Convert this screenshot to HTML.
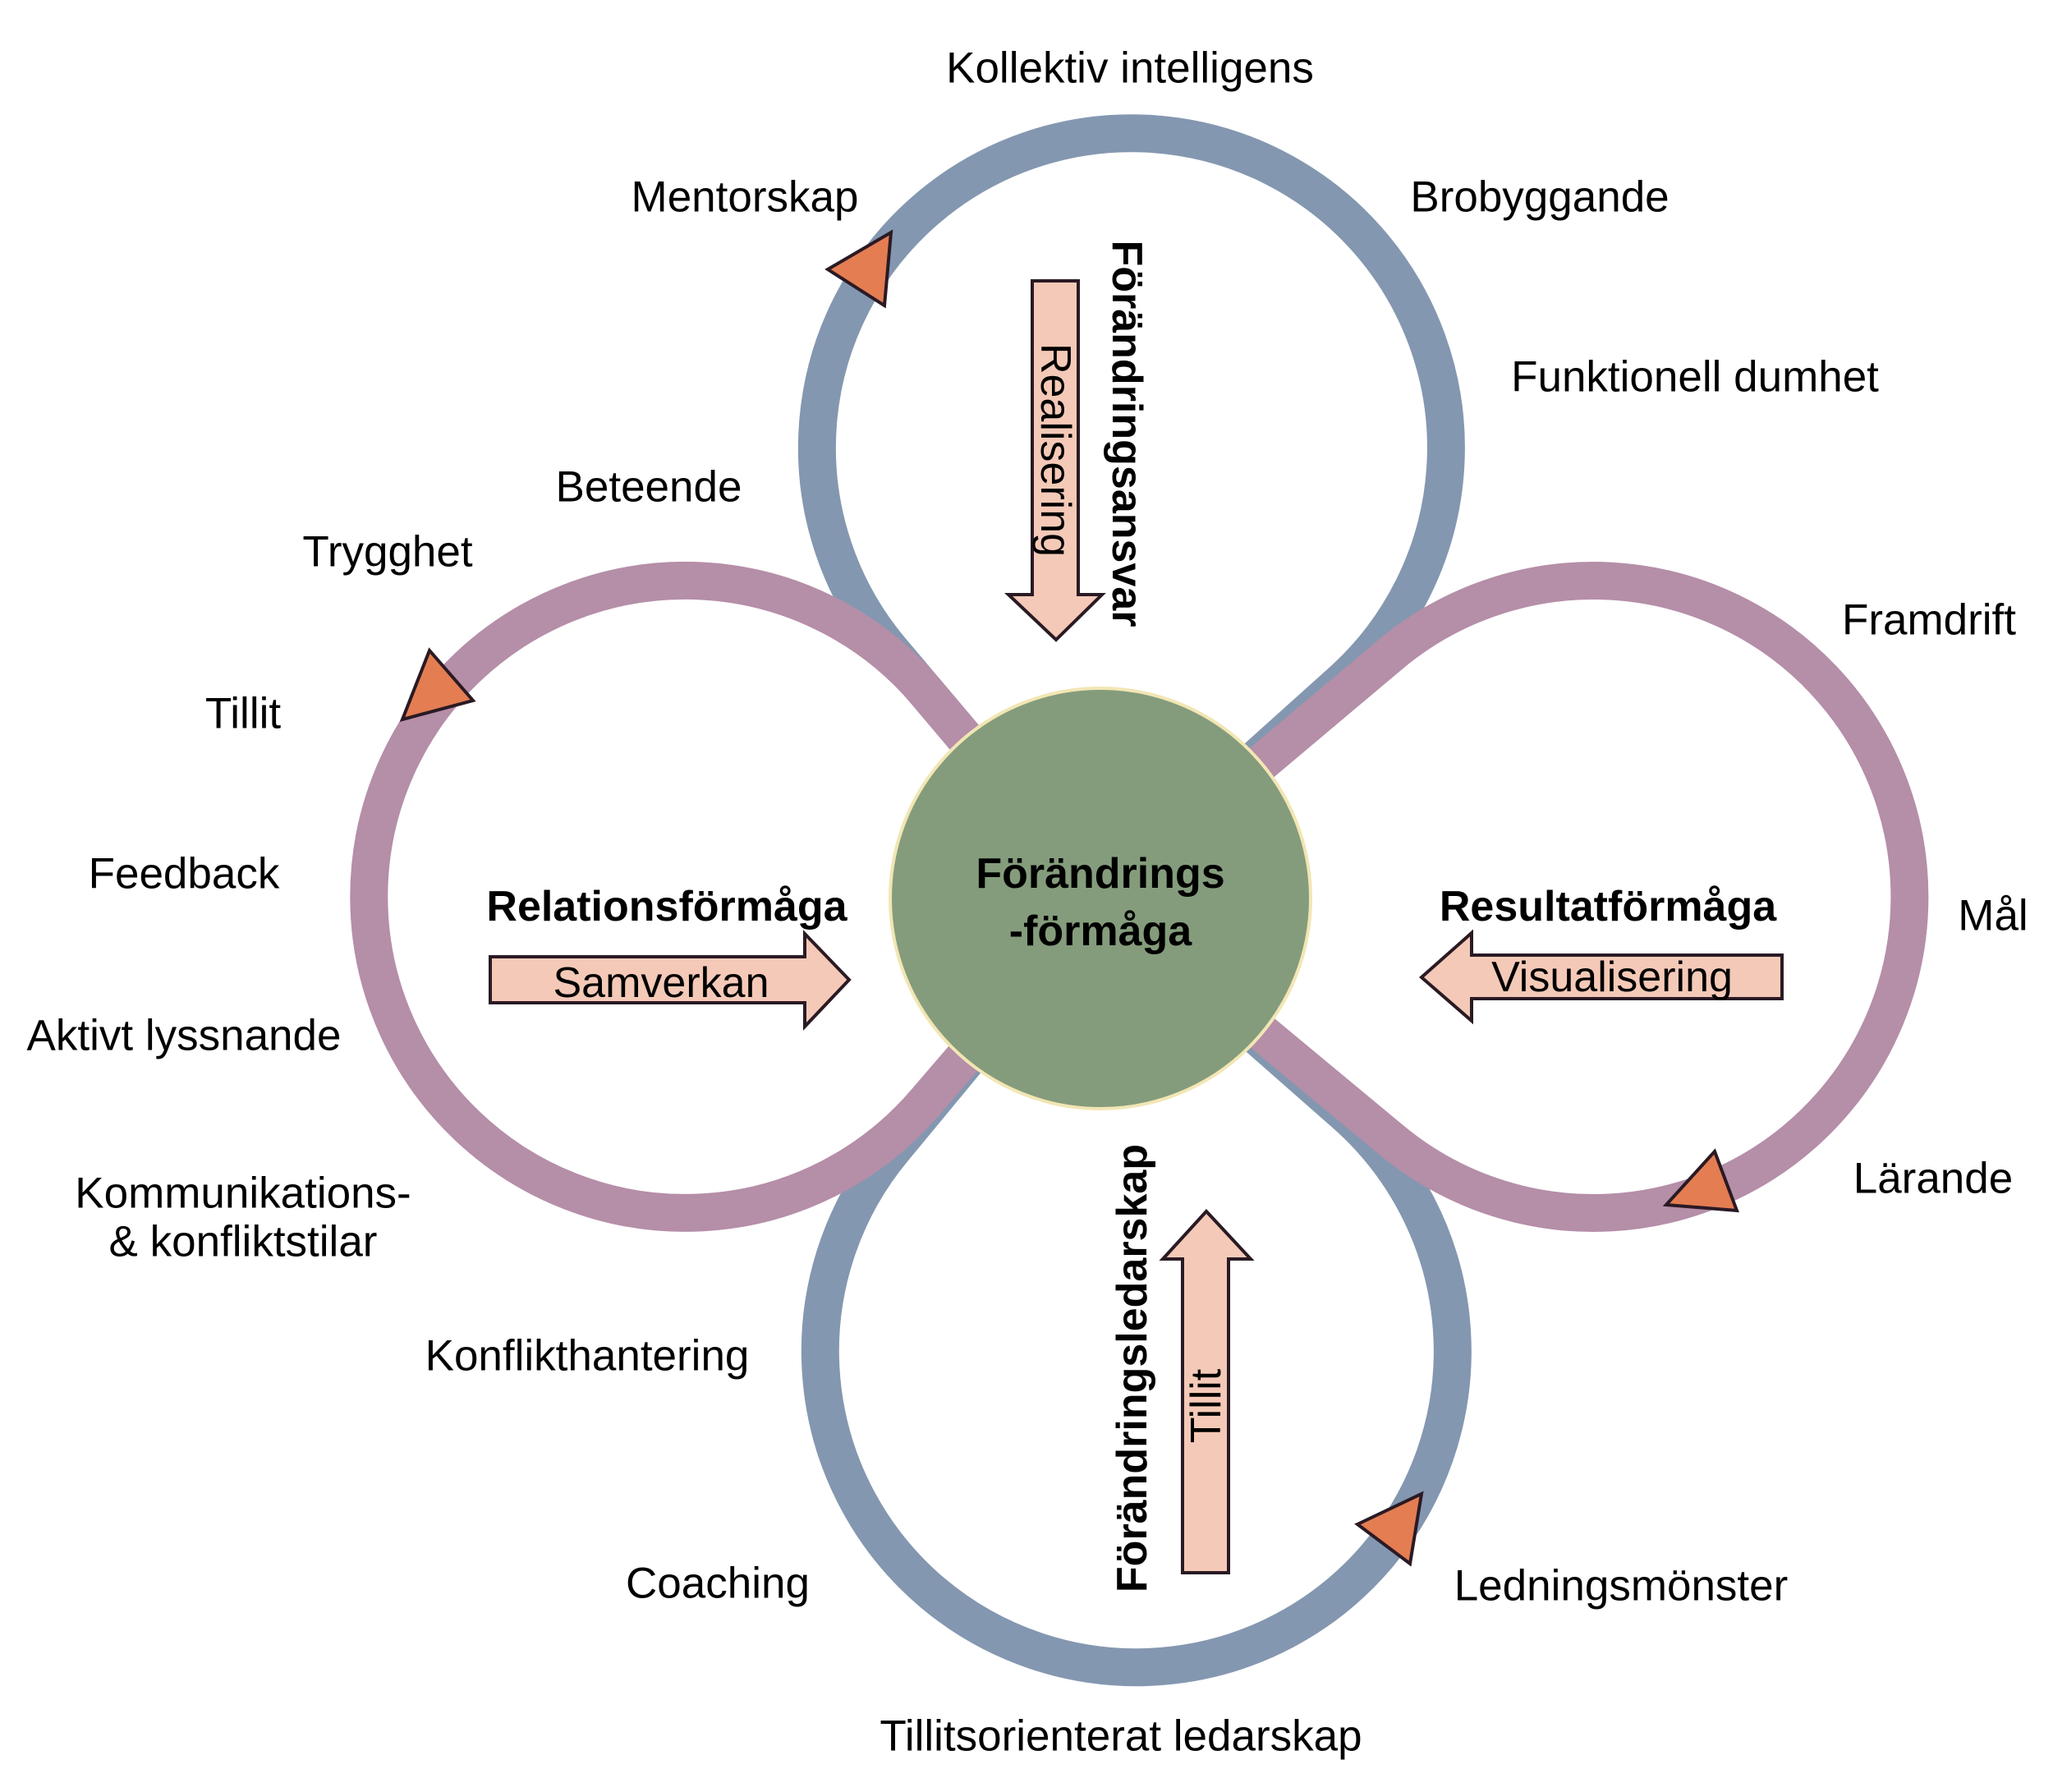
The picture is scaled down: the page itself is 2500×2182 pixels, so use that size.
<!DOCTYPE html>
<html><head><meta charset="utf-8"><style>
html,body{margin:0;padding:0;background:#fff}
svg{display:block}
text{font-family:"Liberation Sans",sans-serif;fill:#000}
</style></head><body>
<svg width="2500" height="2182" viewBox="0 0 2500 2182" xmlns="http://www.w3.org/2000/svg">
<g fill="none" stroke-width="46" stroke-linejoin="round">
<path d="M1340 1094 L1085 792 A383 383 0 1 1 1634 830 Z" stroke="#8497B0"/>
<path d="M1340 1094 L1087 1400 A385 385 0 1 0 1638 1356 Z" stroke="#8497B0"/>
<path d="M1340 1094 L1128 843 A385 385 0 1 0 1127 1342 Z" stroke="#B58EA8"/>
<path d="M1340 1094 L1693 797 A385 385 0 1 1 1693 1387 Z" stroke="#B58EA8"/>
</g>
<circle cx="1340" cy="1094" r="256" fill="#849C7C" stroke="#F2E6B4" stroke-width="4"/>
<g fill="#E47D52" stroke="#2a1a24" stroke-width="4" stroke-linejoin="miter">
<polygon points="1008,328 1085,283 1077,372"/>
<polygon points="523,792 576,853 490,876"/>
<polygon points="2029,1467 2088,1402 2115,1474"/>
<polygon points="1653,1856 1731,1819 1717,1904"/>
</g>
<g fill="#F4C9B7" stroke="#2a1a24" stroke-width="4">
<polygon points="1257,342 1313,342 1313,724 1342,724 1286,779 1228,724 1257,724"/>
<polygon points="597,1165 980,1165 980,1137 1034,1193 980,1250 980,1221 597,1221"/>
<polygon points="2170,1163 1792,1163 1792,1136 1731,1190 1792,1243 1792,1216 2170,1216"/>
<polygon points="1440,1915 1496,1915 1496,1533 1523,1533 1469,1475 1416,1533 1440,1533"/>
</g>
<g font-size="52" text-anchor="middle" dominant-baseline="central">
<text transform="translate(1285,548) rotate(90)">Realisering</text>
<text x="805" y="1197">Samverkan</text>
<text x="1963" y="1190">Visualisering</text>
<text transform="translate(1469,1712) rotate(-90)">Tillit</text>
</g>
<g font-size="52" font-weight="bold" text-anchor="middle" dominant-baseline="central">
<text transform="translate(1372,528) rotate(90)">Förändringsansvar</text>
<text transform="translate(1379,1666) rotate(-90)">Förändringsledarskap</text>
<text x="812" y="1104">Relationsförmåga</text>
<text x="1958" y="1104">Resultatförmåga</text>
<text x="1340" y="1064">Förändrings</text>
<text x="1340" y="1134">-förmåga</text>
</g>
<g font-size="53" text-anchor="middle" dominant-baseline="central">
<text x="1376" y="83">Kollektiv intelligens</text>
<text x="907" y="240">Mentorskap</text>
<text x="1875" y="240">Brobyggande</text>
<text x="2064" y="459">Funktionell dumhet</text>
<text x="790" y="593">Beteende</text>
<text x="472" y="672">Trygghet</text>
<text x="296" y="869">Tillit</text>
<text x="224" y="1064">Feedback</text>
<text x="224" y="1261">Aktivt lyssnande</text>
<text x="296" y="1453">Kommunikations-</text>
<text x="296" y="1512">&amp; konfliktstilar</text>
<text x="715" y="1651">Konflikthantering</text>
<text x="874" y="1928">Coaching</text>
<text x="1365" y="2114">Tillitsorienterat ledarskap</text>
<text x="1974" y="1931">Ledningsmönster</text>
<text x="2354" y="1435">Lärande</text>
<text x="2427" y="1115">Mål</text>
<text x="2349" y="755">Framdrift</text>
</g>
</svg>
</body></html>
